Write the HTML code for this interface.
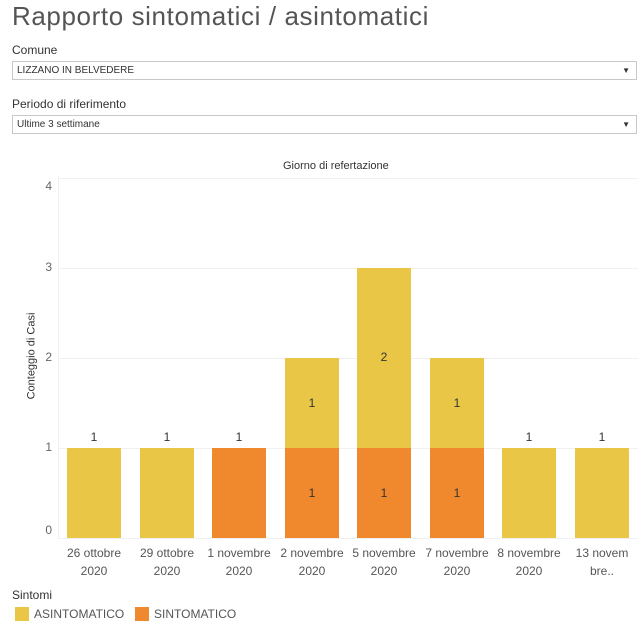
<!DOCTYPE html><html><head><style>
body{margin:0;width:642px;height:640px;background:#fff;font-family:"Liberation Sans",sans-serif;color:#333;position:relative;overflow:hidden}
.a{position:absolute;white-space:nowrap}
.dd{position:absolute;left:12px;width:623px;height:17px;border:1px solid #c8c8c8;font-size:10px;line-height:18px;text-indent:4px;color:#333}
.dd span{position:absolute;right:6px;font-size:8px}
.bar{position:absolute;width:54px}
.y{background:#E9C646}.o{background:#F0892D}
.l{position:absolute;width:54px;text-align:center;font-size:12px;color:#333}
.x{position:absolute;width:72px;text-align:center;font-size:12px;color:#555;line-height:18px}
.t{position:absolute;left:30px;width:22px;text-align:right;font-size:12px;color:#666}
.g{position:absolute;left:58px;width:580px;height:1px;background:#f0f0f0}
</style></head><body>
<div class="a" style="left:12px;top:1px;font-size:26px;color:#555;letter-spacing:0.6px">Rapporto sintomatici / asintomatici</div>
<div class="a" style="left:12px;top:43px;font-size:12px">Comune</div>
<div class="dd" style="top:61px">LIZZANO IN BELVEDERE<span>▼</span></div>
<div class="a" style="left:12px;top:97px;font-size:12px">Periodo di riferimento</div>
<div class="dd" style="top:115px">Ultime 3 settimane<span>▼</span></div>
<div class="a" style="left:283px;top:160px;font-size:11px">Giorno di refertazione</div>
<div class="g" style="top:178px"></div><div class="g" style="top:268px"></div><div class="g" style="top:358px"></div><div class="g" style="top:448px"></div><div class="g" style="top:538px"></div>
<div style="position:absolute;left:58px;top:176px;width:1px;height:363px;background:#f0f0f0"></div>
<div class="t" style="top:179px">4</div><div class="t" style="top:260px">3</div><div class="t" style="top:350px">2</div><div class="t" style="top:440px">1</div><div class="t" style="top:523px">0</div>
<div class="a" style="left:-12px;top:350px;font-size:11px;transform:rotate(-90deg)">Conteggio di Casi</div>
<div class="bar y" style="left:67px;top:448px;height:90px"></div>
<div class="bar y" style="left:140px;top:448px;height:90px"></div>
<div class="bar o" style="left:212px;top:448px;height:90px"></div>
<div class="bar o" style="left:285px;top:448px;height:90px"></div><div class="bar y" style="left:285px;top:358px;height:90px"></div>
<div class="bar o" style="left:357px;top:448px;height:90px"></div><div class="bar y" style="left:357px;top:268px;height:180px"></div>
<div class="bar o" style="left:430px;top:448px;height:90px"></div><div class="bar y" style="left:430px;top:358px;height:90px"></div>
<div class="bar y" style="left:502px;top:448px;height:90px"></div>
<div class="bar y" style="left:575px;top:448px;height:90px"></div>
<div class="l" style="left:67px;top:430px">1</div><div class="l" style="left:140px;top:430px">1</div><div class="l" style="left:212px;top:430px">1</div>
<div class="l" style="left:285px;top:396px">1</div><div class="l" style="left:285px;top:486px">1</div>
<div class="l" style="left:357px;top:350px">2</div><div class="l" style="left:357px;top:486px">1</div>
<div class="l" style="left:430px;top:396px">1</div><div class="l" style="left:430px;top:486px">1</div>
<div class="l" style="left:502px;top:430px">1</div><div class="l" style="left:575px;top:430px">1</div>
<div class="x" style="left:58px;top:544px">26 ottobre<br>2020</div>
<div class="x" style="left:131px;top:544px">29 ottobre<br>2020</div>
<div class="x" style="left:203px;top:544px">1 novembre<br>2020</div>
<div class="x" style="left:276px;top:544px">2 novembre<br>2020</div>
<div class="x" style="left:348px;top:544px">5 novembre<br>2020</div>
<div class="x" style="left:421px;top:544px">7 novembre<br>2020</div>
<div class="x" style="left:493px;top:544px">8 novembre<br>2020</div>
<div class="x" style="left:566px;top:544px">13 novem<br>bre..</div>
<div class="a" style="left:12px;top:588px;font-size:12px">Sintomi</div>
<div style="position:absolute;left:15px;top:607px;width:14px;height:14px;background:#E9C646"></div>
<div class="a" style="left:34px;top:607px;font-size:12px;color:#555">ASINTOMATICO</div>
<div style="position:absolute;left:135px;top:607px;width:14px;height:14px;background:#F0892D"></div>
<div class="a" style="left:154px;top:607px;font-size:12px;color:#555">SINTOMATICO</div>
</body></html>
